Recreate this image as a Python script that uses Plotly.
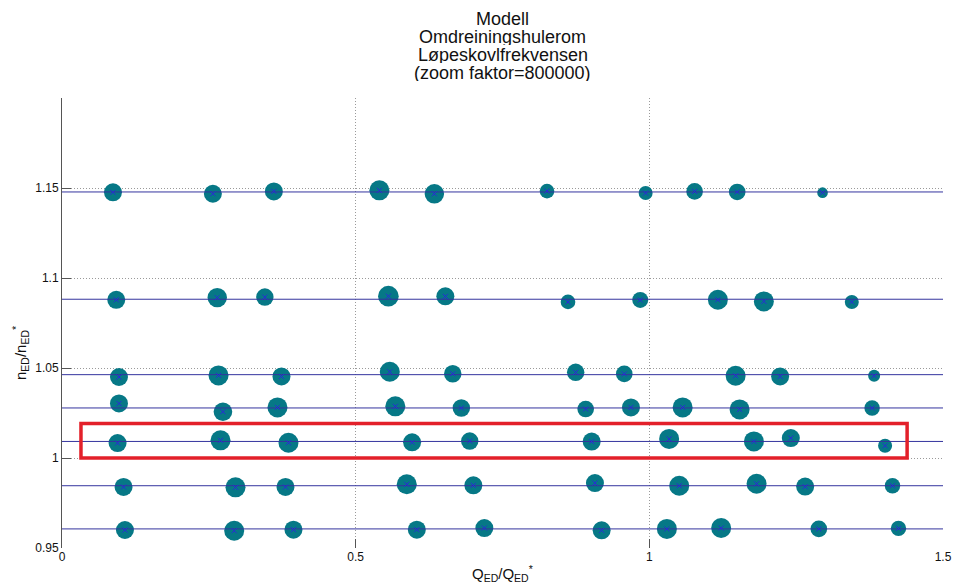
import plotly.graph_objects as go

# Nominal speed ratio of each measured operating line
n_levels = [1.1478, 1.0882, 1.0463, 1.0278, 1.0092, 0.9846, 0.9606]

# Measured operating points: discharge ratio Q_ED/Q_ED*
q_ratio = [
    0.0868, 0.2569, 0.3607, 0.5404, 0.6340, 0.8258, 0.9937, 1.0771, 1.1496, 1.2949,
    0.0924, 0.2643, 0.3454, 0.5557, 0.6527, 0.8615, 0.9845, 1.1167, 1.1950, 1.3447,
    0.0970, 0.2665, 0.3737, 0.5581, 0.6653, 0.8746, 0.9573, 1.1469, 1.2227, 1.3827,
    0.0970, 0.2740, 0.3669, 0.5675, 0.6799, 0.8916, 0.9687, 1.0567, 1.1537, 1.3793,
    0.0946, 0.2699, 0.3856, 0.5961, 0.6942, 0.9018, 1.0337, 1.1780, 1.2409, 1.4014,
    0.1048, 0.2954, 0.3805, 0.5870, 0.7004, 0.9074, 1.0509, 1.1826, 1.2653, 1.4140,
    0.1072, 0.2932, 0.3941, 0.6041, 0.7191, 0.9188, 1.0299, 1.1223, 1.2886, 1.4242,
]

# Measured speed ratio n_ED/n_ED*
n_ratio = [
    1.1476, 1.1468, 1.1481, 1.1487, 1.1468, 1.1483, 1.1472, 1.1481, 1.1478, 1.1474,
    1.0879, 1.0891, 1.0894, 1.0899, 1.0898, 1.0867, 1.0878, 1.0879, 1.0870, 1.0867,
    1.0450, 1.0459, 1.0453, 1.0479, 1.0468, 1.0476, 1.0467, 1.0457, 1.0453, 1.0457,
    1.0303, 1.0257, 1.0281, 1.0287, 1.0278, 1.0272, 1.0281, 1.0281, 1.0270, 1.0278,
    1.0083, 1.0098, 1.0085, 1.0087, 1.0094, 1.0091, 1.0106, 1.0092, 1.0111, 1.0068,
    0.9839, 0.9837, 0.9839, 0.9854, 0.9848, 0.9861, 0.9846, 0.9857, 0.9841, 0.9846,
    0.9600, 0.9596, 0.9602, 0.9602, 0.9611, 0.9598, 0.9606, 0.9611, 0.9606, 0.9609,
]

# Pressure amplitude at the runner blade passing frequency
amplitude = [
    2.25e-5, 2.25e-5, 2.25e-5, 2.50e-5, 2.43e-5, 1.83e-5, 1.75e-5, 2.08e-5, 2.08e-5, 1.33e-5,
    2.25e-5, 2.43e-5, 2.18e-5, 2.58e-5, 2.25e-5, 1.83e-5, 2.00e-5, 2.50e-5, 2.50e-5, 1.75e-5,
    2.25e-5, 2.50e-5, 2.25e-5, 2.50e-5, 2.18e-5, 2.18e-5, 2.08e-5, 2.50e-5, 2.25e-5, 1.50e-5,
    2.25e-5, 2.33e-5, 2.50e-5, 2.50e-5, 2.18e-5, 2.08e-5, 2.25e-5, 2.50e-5, 2.50e-5, 1.93e-5,
    2.25e-5, 2.50e-5, 2.50e-5, 2.25e-5, 2.18e-5, 2.25e-5, 2.50e-5, 2.50e-5, 2.25e-5, 1.75e-5,
    2.25e-5, 2.50e-5, 2.25e-5, 2.50e-5, 2.25e-5, 2.25e-5, 2.50e-5, 2.50e-5, 2.25e-5, 1.93e-5,
    2.25e-5, 2.50e-5, 2.25e-5, 2.25e-5, 2.25e-5, 2.25e-5, 2.50e-5, 2.50e-5, 2.08e-5, 1.93e-5,
]

ZOOM = 800000  # marker diameter in px = amplitude * zoom factor

x_ticks = [0, 0.5, 1, 1.5]
x_tick_text = ["0", "0.5", "1", "1.5"]
y_ticks = [0.95, 1.0, 1.05, 1.1, 1.15]
y_tick_text = ["0.95", "1", "1.05", "1.1", "1.15"]
x_range = [0, 1.5]
y_range = [0.95, 1.2]

title_lines = ["Modell", "Omdreiningshulerom", "Løpeskovlfrekvensen",
               "(zoom faktor=800000)"]

# Highlighted operating line
highlight_q = [0.0323, 1.4389]
highlight_n = [1.0, 1.0191]

FONT = "Liberation Sans, Arial, sans-serif"
TEAL = "#067886"
LINE_BLUE = "#34349e"
CROSS_BLUE = "#2a2ad8"
GRID = "#9a9a9a"
AXIS = "#555555"

fig = go.Figure()

fig.add_trace(go.Scatter(
    x=q_ratio, y=n_ratio, mode="markers",
    marker=dict(size=[a * ZOOM for a in amplitude], color=TEAL,
                opacity=1, line=dict(width=0)),
    hoverinfo="skip", showlegend=False,
))

line_x, line_y = [], []
for lvl in n_levels:
    line_x += [x_range[0], x_range[1], None]
    line_y += [lvl, lvl, None]
fig.add_trace(go.Scatter(
    x=line_x, y=line_y, mode="lines",
    line=dict(color=LINE_BLUE, width=1),
    hoverinfo="skip", showlegend=False,
))

fig.add_trace(go.Scatter(
    x=q_ratio, y=n_ratio, mode="markers",
    marker=dict(symbol="x-thin", size=5, opacity=1,
                line=dict(width=1, color=CROSS_BLUE)),
    hoverinfo="skip", showlegend=False,
))

fig.add_shape(
    type="rect", xref="x", yref="y",
    x0=highlight_q[0], x1=highlight_q[1],
    y0=highlight_n[0], y1=highlight_n[1],
    line=dict(color="#e3202a", width=3.5), layer="above",
)

annotations = []
for i, txt in enumerate(title_lines):
    annotations.append(dict(
        text=txt, xref="paper", yref="paper", x=0.5, y=1,
        xanchor="center", yanchor="middle", yshift=79.5 - 18 * i,
        height=17, valign="middle",
        showarrow=False, font=dict(family=FONT, size=18, color="#111111"),
    ))
annotations.append(dict(
    text="Q<sub>ED</sub>/Q<sub>ED</sub><sup>*</sup>",
    xref="paper", yref="paper", x=0.5, y=0, xanchor="center",
    yanchor="middle", yshift=-25, showarrow=False,
    font=dict(family=FONT, size=15, color="#111111"),
))
annotations.append(dict(
    text="n<sub>ED</sub>/n<sub>ED</sub><sup>*</sup>",
    xref="paper", yref="paper", x=0, y=0.4333, xanchor="center",
    yanchor="middle", xshift=-42, textangle=-90, showarrow=False,
    font=dict(family=FONT, size=15, color="#111111"),
))

fig.update_layout(
    template="none",
    width=956, height=586, autosize=False,
    margin=dict(l=62, r=13, t=98, b=38, autoexpand=False),
    paper_bgcolor="white", plot_bgcolor="white",
    font=dict(family=FONT, size=12, color="#111111"),
    annotations=annotations,
    showlegend=False,
)

fig.update_xaxes(
    range=x_range, tickvals=x_ticks, ticktext=x_tick_text,
    ticks="inside", ticklen=9, tickcolor=AXIS, tickwidth=1,
    showgrid=True, gridcolor=GRID, griddash="1px,2px", gridwidth=1,
    showline=False, zeroline=False, automargin=False,
    tickfont=dict(family=FONT, size=12, color="#111111"),
)
fig.update_yaxes(
    range=y_range, tickvals=y_ticks, ticktext=y_tick_text,
    ticks="inside", ticklen=9, tickcolor=AXIS, tickwidth=1,
    showgrid=True, gridcolor=GRID, griddash="1px,2px", gridwidth=1,
    showline=True, linecolor=AXIS, linewidth=1, zeroline=False,
    automargin=False,
    tickfont=dict(family=FONT, size=12, color="#111111"),
)

fig.write_html("out.html")
